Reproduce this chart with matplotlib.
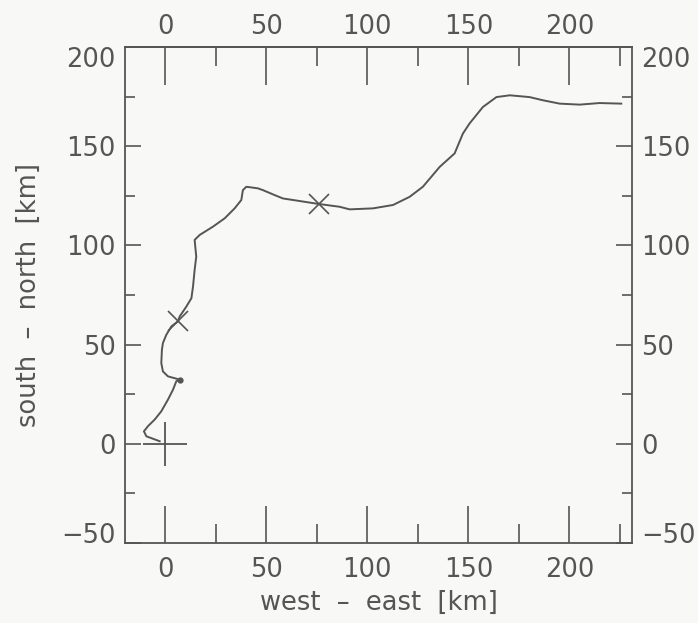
import numpy as np
import matplotlib.pyplot as plt
from matplotlib.ticker import MultipleLocator

# track of the drifter (km)
track_x = [-2.8, -9.4, -10.6, -8.6, -5.3, -2.0, 1.3, 3.8, 5.4, 7.1, 1.3, -1.2, -2.0, -1.7,
           -1.2, 0.5, 3.0, 6.2, 7.1, 10.4, 12.9, 13.7, 14.5, 15.3, 14.5, 17.0, 23.6, 29.4,
           34.3, 37.6, 38.4, 40.1, 45.8, 48.3, 54.1, 58.2, 66.5, 76.0, 86.3, 91.2, 102.8,
           112.7, 120.9, 127.5, 135.8, 143.2, 147.3, 150.6, 157.2, 163.9, 170.5, 180.3,
           186.9, 195.2, 205.1, 215.0, 225.7]
track_y = [1.3, 3.8, 6.3, 8.9, 12.2, 16.4, 22.3, 27.3, 31.5, 32.4, 34.0, 36.5, 40.7, 47.4,
           50.8, 55.0, 59.2, 61.7, 64.2, 69.2, 73.4, 79.3, 87.7, 94.4, 102.8, 105.3, 109.5,
           113.7, 118.7, 122.9, 127.9, 129.6, 128.8, 127.9, 125.4, 123.7, 122.4, 120.9,
           119.5, 118.2, 118.7, 120.4, 124.5, 129.6, 139.6, 146.4, 156.4, 161.5, 169.8,
           174.8, 175.7, 174.8, 173.2, 171.5, 171.0, 171.8, 171.5]

start_x, start_y = [0], [0]
cross_x = [6.2, 76.0]
cross_y = [61.7, 120.9]
dot_x, dot_y = [7.1], [32.4]

ink = '#555555'
fs = 18.5
plt.rcParams['font.family'] = ['DejaVu Sans']

fig = plt.figure(figsize=(6.98, 6.23), dpi=100)
fig.patch.set_facecolor('#f8f8f6')
ax = fig.add_axes([0.179, 0.1284, 0.7264, 0.796])
ax.set_facecolor('#f8f8f6')

ax.plot(track_x, track_y, color=ink, lw=1.4)
ax.plot(start_x, start_y, marker='+', ms=32, mew=1.3, color=ink, ls='none')
ax.plot(cross_x, cross_y, marker='x', ms=14, mew=1.2, color=ink, ls='none')
ax.plot(dot_x, dot_y, marker='o', ms=3.5, color=ink, ls='none')

ax.set_xlim(-20, 231)
ax.set_ylim(-50, 200)

top = ax.secondary_xaxis('top')
for a in (ax.xaxis, top.xaxis, ax.yaxis):
    a.set_major_locator(MultipleLocator(50))
    a.set_minor_locator(MultipleLocator(25))

ax.tick_params(axis='x', which='major', direction='in', length=27, width=1.2,
               labelsize=fs, pad=10, colors=ink)
ax.tick_params(axis='x', which='minor', direction='in', length=14, width=1.2, colors=ink)
top.tick_params(axis='x', which='major', direction='in', length=27, width=1.2,
                labelsize=fs, pad=5, colors=ink)
top.tick_params(axis='x', which='minor', direction='in', length=14, width=1.2, colors=ink)
ax.tick_params(axis='y', which='major', direction='in', length=11.5, width=1.2,
               right=True, labelright=True, labelsize=fs, pad=6.5, colors=ink)
ax.tick_params(axis='y', which='minor', direction='in', length=7, width=1.2, right=True, colors=ink)

for s in list(ax.spines.values()) + [top.spines['top']]:
    s.set_color(ink)
    s.set_linewidth(1.3)

ax.set_xlabel('west  \u2013  east  [km]', fontsize=fs, color=ink, labelpad=5)
ax.set_ylabel('south  \u2013  north  [km]', fontsize=fs, color=ink, labelpad=14)

# end labels of the y axis sit inside the frame, as in the original
fig.canvas.draw()
for t in ax.yaxis.get_major_ticks():
    if abs(t.get_loc() - 200) < 1e-6:
        t.label1.set_va('top')
        t.label2.set_va('top')
    elif abs(t.get_loc() + 50) < 1e-6:
        t.label1.set_va('baseline')
        t.label2.set_va('baseline')

fig.savefig('out.png', dpi=100, facecolor=fig.get_facecolor())
